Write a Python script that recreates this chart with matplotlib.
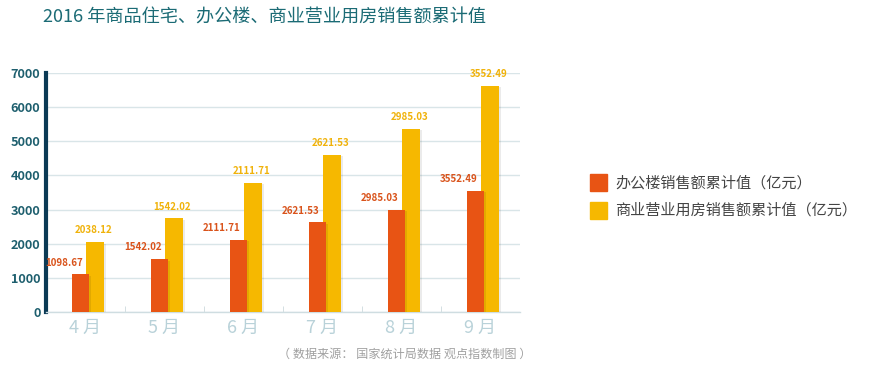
import matplotlib
matplotlib.use("Agg")
import matplotlib.pyplot as plt
import matplotlib.patheffects as pe
import numpy as np
from matplotlib.patches import Rectangle

plt.rcParams['font.family'] = ['Noto Sans CJK SC', 'DejaVu Sans']

months = ["4 月", "5 月", "6 月", "7 月", "8 月", "9 月"]
office = [1098.67, 1542.02, 2111.71, 2621.53, 2985.03, 3552.49]
office_labels = ["1098.67", "1542.02", "2111.71", "2621.53", "2985.03", "3552.49"]
commercial = [2038.12, 2740, 3780, 4600, 5370, 6620]
commercial_labels = ["2038.12", "1542.02", "2111.71", "2621.53", "2985.03", "3552.49"]
yticks = [0, 1000, 2000, 3000, 4000, 5000, 6000, 7000]
series_names = ["办公楼销售额累计值（亿元）", "商业营业用房销售额累计值（亿元）"]

ORANGE = "#E85414"
YELLOW = "#F6B800"

fig = plt.figure(figsize=(8.7, 3.71), dpi=100)
ax = fig.add_axes([46/870, 1-312/371, (520-46)/870, (312-73)/371])

x = np.arange(len(months))
w = 0.225
shadow = [pe.SimplePatchShadow(offset=(1.5, -1), shadow_rgbFace="#000000", alpha=0.08), pe.Normal()]
ax.bar(x + 0.12, commercial, width=w, color=YELLOW, zorder=3, path_effects=shadow)
ax.bar(x - 0.063, office, width=w, color=ORANGE, zorder=4, path_effects=shadow)

for xi, v, lab in zip(x, office, office_labels):
    ax.annotate(lab, (xi - 0.063 + 0.03, v), xytext=(0, 5), textcoords="offset points",
                ha="right", va="bottom", fontsize=7, color="#D9531B", fontweight="bold", zorder=6)
for xi, v, lab in zip(x, commercial, commercial_labels):
    ax.annotate(lab, (xi + 0.10, v), xytext=(0, 5), textcoords="offset points",
                ha="center", va="bottom", fontsize=7, color="#F0B20A", fontweight="bold", zorder=6)

ax.set_xlim(-0.5, len(months) - 0.5)
ax.set_ylim(0, 7000)
ax.set_yticks(yticks)
ax.set_yticklabels([str(t) for t in yticks], fontsize=9.2, fontweight="bold", color="#1E5F6E")
ax.yaxis.grid(True, color="#D9E5E8", linewidth=1, zorder=0)
ax.set_axisbelow(True)

ax.set_xticks(x)
ax.set_xticklabels(months, fontsize=13, color="#B9D2D9")
ax.set_xticks(np.arange(0.5, len(months) - 1, 1), minor=True)
ax.tick_params(axis="x", which="major", length=0, pad=5)
ax.tick_params(axis="x", which="minor", direction="in", length=4, color="#CCD9DD")
ax.tick_params(axis="y", length=0, pad=4)

for s in ["top", "right"]:
    ax.spines[s].set_visible(False)
ax.spines["left"].set_color("#0B3A55")
ax.spines["left"].set_linewidth(3)
ax.spines["bottom"].set_color("#CFDDE1")
ax.spines["bottom"].set_linewidth(1)

fig.text(43/870, 1-18/371, "2016 年商品住宅、办公楼、商业营业用房销售额累计值",
         fontsize=13.1, color="#1B6B75", ha="left", va="center")

for i, (name, col) in enumerate(zip(series_names, [ORANGE, YELLOW])):
    yc = 183 + i * 27
    fig.patches.append(Rectangle((590/870, 1-(yc+8.5)/371), 17/870, 17/371,
                                 transform=fig.transFigure, color=col, figure=fig))
    fig.text(615/870, 1-yc/371, name, fontsize=10.9, color="#444444", ha="left", va="center")

fig.text(278/870, 1-354/371, "（ 数据来源： 国家统计局数据 观点指数制图 ）",
         fontsize=8.7, color="#A0A0A0", ha="left", va="center")

fig.savefig("out.png", dpi=100)
